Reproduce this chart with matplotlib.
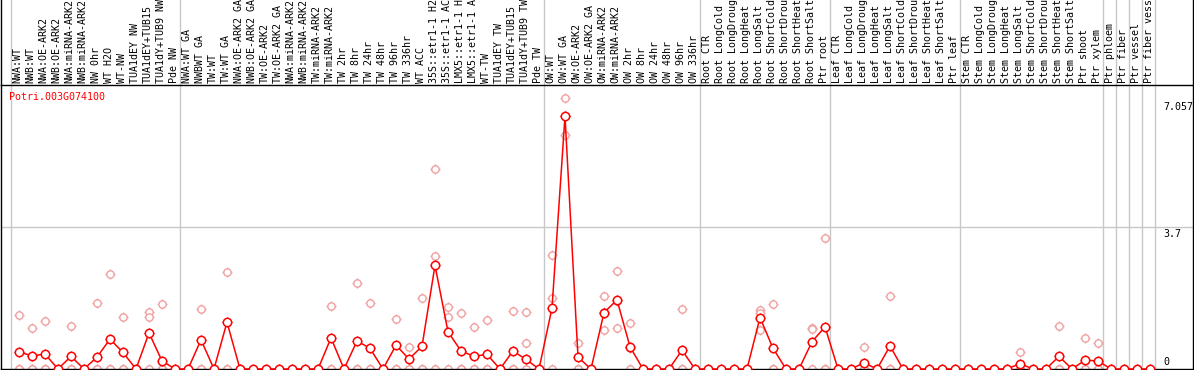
import matplotlib
matplotlib.use("Agg")
import matplotlib.pyplot as plt
import matplotlib.transforms as mtransforms

gene = "Potri.003G074100"

labels = [
    "NWA:WT", "NWB:WT", "NWA:OE-ARK2", "NWB:OE-ARK2", "NWA:miRNA-ARK2",
    "NWB:miRNA-ARK2", "NW 0hr", "WT H2O", "WT-NW", "TUA1dEY NW",
    "TUA1dEY+TUB15", "TUA1dY+TUB9 NW", "Pde NW",
    "NWA:WT GA", "NWBWT GA", "TW:WT", "TW:WT GA", "NWA:OE-ARK2 GA",
    "NWB:OE-ARK2 GA", "TW:OE-ARK2", "TW:OE-ARK2 GA", "NWA:miRNA-ARK2",
    "NWB:miRNA-ARK2", "TW:miRNA-ARK2", "TW:miRNA-ARK2", "TW 2hr", "TW 8hr",
    "TW 24hr", "TW 48hr", "TW 96hr", "TW 336hr", "WT ACC",
    "35S::etr1-1 H2O", "35S::etr1-1 ACC", "LMX5::etr1-1 H2O",
    "LMX5::etr1-1 ACC", "WT-TW", "TUA1dEY TW", "TUA1dEY+TUB15",
    "TUA1dY+TUB9 TW", "Pde TW",
    "OW:WT", "OW:WT GA", "OW:OE-ARK2", "OW:OE-ARK2 GA", "OW:miRNA-ARK2",
    "OW:miRNA-ARK2", "OW 2hr", "OW 8hr", "OW 24hr", "OW 48hr", "OW 96hr",
    "OW 336hr",
    "Root CTR", "Root LongCold", "Root LongDrought", "Root LongHeat",
    "Root LongSalt", "Root ShortCold", "Root ShortDrought", "Root ShortHeat",
    "Root ShortSalt", "Ptr root",
    "Leaf CTR", "Leaf LongCold", "Leaf LongDrought", "Leaf LongHeat",
    "Leaf LongSalt", "Leaf ShortCold", "Leaf ShortDrought", "Leaf ShortHeat",
    "Leaf ShortSalt", "Ptr leaf",
    "Stem CTR", "Stem LongCold", "Stem LongDrought", "Stem LongHeat",
    "Stem LongSalt", "Stem ShortCold", "Stem ShortDrought", "Stem ShortHeat",
    "Stem ShortSalt", "Ptr shoot", "Ptr xylem",
    "Ptr phloem", "Ptr fiber", "Ptr vessel", "Ptr fiber vessel",
]

# number of samples in each block between the grey separators
group_sizes = [13, 28, 12, 10, 10, 11, 1, 1, 1, 1]

means = [
    0.45, 0.34, 0.39, 0, 0.33, 0, 0.31, 0.78, 0.43, 0, 0.94, 0.21, 0,
    0, 0.76, 0, 1.22, 0, 0, 0, 0, 0, 0, 0, 0.81, 0, 0.73, 0.54, 0, 0.62,
    0.26, 0.59, 2.70, 0.97, 0.47, 0.33, 0.38, 0, 0.47, 0.25, 0,
    1.59, 6.59, 0.31, 0, 1.47, 1.80, 0.58, 0, 0, 0, 0.49, 0,
    0, 0, 0, 0, 1.34, 0.54, 0, 0, 0.71, 1.10,
    0, 0, 0.16, 0, 0.60, 0, 0, 0, 0, 0,
    0, 0, 0, 0, 0.14, 0, 0, 0.33, 0, 0.23, 0.21,
    0, 0, 0, 0,
]

replicates = [
    [1.41, 0, 0], [1.08, 0, 0], [1.25, 0, 0], [0], [1.11, 0, 0], [0],
    [1.72, 0, 0], [2.47, 0, 0], [1.36, 0, 0], [0], [1.48, 1.36, 0],
    [1.70, 0, 0], [0],
    [0], [1.57, 0, 0], [0], [2.52, 0, 0], [0], [0], [0], [0], [0], [0], [0],
    [1.65, 0, 0], [0], [2.25, 0, 0], [1.71, 0, 0], [0], [1.29, 0, 0],
    [0.57, 0, 0], [1.86, 0, 0], [5.20, 2.94, 0], [1.62, 1.36, 0],
    [1.47, 0, 0], [1.09, 0, 0], [1.28, 0, 0], [0], [1.52, 0, 0],
    [1.49, 0.67, 0], [0],
    [2.97, 1.86, 0], [7.057, 6.11, 6.60], [0.67, 0, 0], [0],
    [1.91, 1.02, 1.48], [2.56, 1.07, 1.77], [1.20, 0.54, 0], [0], [0], [0],
    [1.57, 0, 0], [0],
    [0], [0], [0], [0], [1.55, 1.02, 1.45], [1.70, 0, 0], [0], [0],
    [1.08, 1.05, 0], [3.41, 0, 0],
    [0], [0], [0.58, 0, 0], [0], [1.89, 0, 0], [0], [0], [0], [0], [0],
    [0], [0], [0], [0], [0.45, 0, 0], [0], [0], [1.12, 0, 0], [0],
    [0.81, 0, 0], [0.67, 0, 0],
    [0], [0], [0], [0],
]

ytick_vals = [7.057, 3.7, 0]

RED = "#ff0000"
PINK = "#f0a0a0"
GRID = "#c8c8c8"
FONT = "DejaVu Sans Mono"
FS = 7.2

W, H = 1194, 370
fig = plt.figure(figsize=(W / 100, H / 100), dpi=100)
ax = fig.add_axes([1 / W, 1 / H, 1192 / W, 284 / H])
n = len(labels)
ax.set_xlim(-18 / 13, n - 1 + 43 / 13)
ax.set_ylim(0, 7.40)
ax.set_xticks([])
ax.set_yticks([])
for sp in ax.spines.values():
    sp.set_color("black")
    sp.set_linewidth(1)

head = 1 + 85 / 284  # header reaches the top of the figure
trans = mtransforms.blended_transform_factory(ax.transData, ax.transAxes)

# outer frame continues up through the header
for xa in (0, 1):
    ax.plot([xa, xa], [1, head], transform=ax.transAxes, color="black",
            lw=1, clip_on=False)

# grey separators between sample blocks
start = 0
bounds = [-0.65]
for g in group_sizes:
    start += g
    bounds.append(start - 0.6)
for b in bounds:
    ax.plot([b, b], [0, head], transform=trans, color=GRID, lw=1,
            clip_on=False, zorder=0.5)

ax.axhline(3.7, color=GRID, lw=1, zorder=0.5)

# sample names, rotated, sitting on the header line
for i, lab in enumerate(labels):
    ax.text(i - 0.1, 1 + 2 / 284, lab, transform=trans, rotation=90,
            ha="center", va="bottom", fontsize=FS, family=FONT,
            color="black", clip_on=False)

# replicate values
rx, ry = [], []
for i, reps in enumerate(replicates):
    for v in reps:
        rx.append(i)
        ry.append(v)
ax.plot(rx, ry, ls="none", marker="+", ms=7, mew=1, color=PINK,
        zorder=2, clip_on=False)
ax.plot(rx, ry, ls="none", marker="o", ms=5.3, mew=1, mec=PINK, mfc="white",
        zorder=2.1, clip_on=False)

# mean expression
xs = list(range(n))
ax.plot(xs, means, color=RED, lw=1.1, zorder=3, clip_on=False)
ax.plot(xs, means, ls="none", marker="+", ms=7.8, mew=1, color=RED,
        zorder=4, clip_on=False)
ax.plot(xs, means, ls="none", marker="o", ms=6, mew=1.1, mec=RED,
        mfc="white", zorder=5, clip_on=False)

# value labels on the right
ax.text(n, ytick_vals[0] - 0.1, "7.057", ha="left", va="top", fontsize=FS,
        family=FONT)
ax.text(n, ytick_vals[1] - 0.04, "3.7", ha="left", va="top", fontsize=FS,
        family=FONT)
ax.text(n, ytick_vals[2] + 0.05, "0", ha="left", va="bottom", fontsize=FS,
        family=FONT)

ax.text(8 / 1192, 1 - 12 / 284, gene, transform=ax.transAxes, color=RED,
        ha="left", va="center", fontsize=FS, family=FONT)

fig.savefig("out.png", dpi=100)
